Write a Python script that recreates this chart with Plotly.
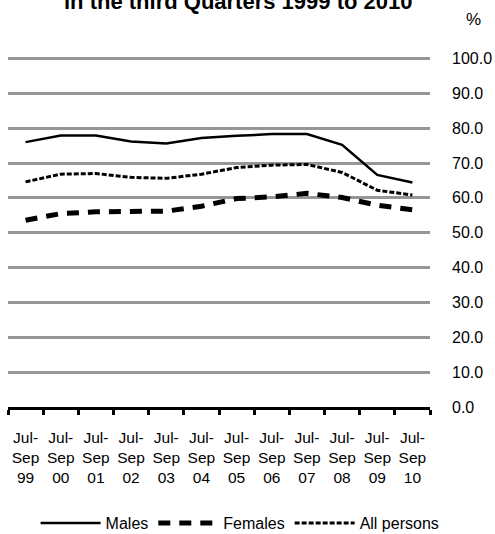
import plotly.graph_objects as go

categories = ["Jul-<br>Sep<br>99", "Jul-<br>Sep<br>00", "Jul-<br>Sep<br>01", "Jul-<br>Sep<br>02",
              "Jul-<br>Sep<br>03", "Jul-<br>Sep<br>04", "Jul-<br>Sep<br>05", "Jul-<br>Sep<br>06",
              "Jul-<br>Sep<br>07", "Jul-<br>Sep<br>08", "Jul-<br>Sep<br>09", "Jul-<br>Sep<br>10"]
males = [76.0, 77.9, 77.9, 76.2, 75.6, 77.2, 77.8, 78.3, 78.3, 75.2, 66.6, 64.4]
females = [53.6, 55.5, 56.0, 56.0, 56.2, 57.6, 59.8, 60.3, 61.3, 60.1, 57.9, 56.6]
all_persons = [64.6, 66.8, 67.0, 65.9, 65.6, 66.8, 68.7, 69.4, 69.6, 67.3, 62.2, 60.8]
y_ticks = [0, 10, 20, 30, 40, 50, 60, 70, 80, 90, 100]
y_tick_labels = ["%.1f" % v for v in y_ticks]

FONT = "Arial, Liberation Sans, Helvetica, sans-serif"

fig = go.Figure()
fig.add_trace(go.Scatter(x=categories, y=males, name="Males", mode="lines",
                         line=dict(color="black", width=2.5)))
fig.add_trace(go.Scatter(x=categories, y=females, name="Females", mode="lines",
                         line=dict(color="black", width=5, dash="12px,9px")))
fig.add_trace(go.Scatter(x=categories, y=all_persons, name="All persons", mode="lines",
                         line=dict(color="black", width=3, dash="5px,2px")))

fig.update_layout(
    width=495, height=534, autosize=False,
    margin=dict(l=8, r=65, t=55, b=127, autoexpand=False),
    plot_bgcolor="white", paper_bgcolor="white",
    font=dict(family=FONT, size=16, color="black"),
    showlegend=True,
    legend=dict(orientation="h", x=0.55, xanchor="center", y=-0.33, yanchor="middle",
                font=dict(size=16), itemwidth=60, tracegroupgap=0),
    xaxis=dict(type="category", tickson="boundaries", ticks="outside", ticklen=5,
               tickwidth=2.5, tickcolor="black", showline=True, linecolor="black",
               linewidth=3, showgrid=False, range=[-0.5, 11.5], tickangle=0,
               automargin=False, ticklabelstandoff=14, tickfont=dict(size=15.5)),
    yaxis=dict(range=[0, 101], side="right", tickvals=y_ticks, ticktext=y_tick_labels,
               showgrid=True, gridcolor="#969696", gridwidth=3, zeroline=False,
               showline=False, ticks="", ticklabelstandoff=21, automargin=False,
               tickfont=dict(size=16)),
    annotations=[
        dict(text="<b>in the third Quarters 1999 to 2010</b>", xref="paper", yref="paper",
             x=0.545, y=1.11, xanchor="center", yanchor="bottom", showarrow=False,
             font=dict(size=22)),
        dict(text="%", xref="paper", yref="paper", x=1.102, y=1.102, xanchor="center",
             yanchor="middle", showarrow=False, font=dict(size=17)),
    ],
)

fig.write_html("out.html", config={"displayModeBar": False},
               post_script="document.body.style.margin='0';document.body.style.overflow='hidden';")
